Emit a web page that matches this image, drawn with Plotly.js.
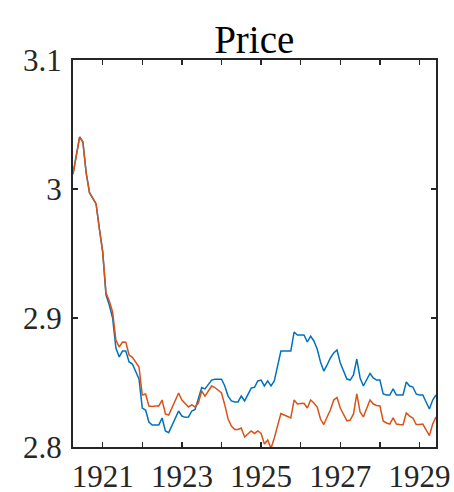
<!DOCTYPE html>
<html>
<head>
<meta charset="utf-8">
<script src="https://cdn.plot.ly/plotly-3.0.1.min.js"></script>
<style>
html,body{margin:0;padding:0;background:#fff;}
#chart{width:454px;height:492px;}
</style>
</head>
<body>
<div id="chart"></div>
<script>
// Monthly series, April 1920 to June 1929
const startYear = 1920;
const startMonth = 4;

const seriesBlue = [3.0116,3.0264,3.0403,3.0364,3.0124,2.9971,2.9922,2.9884,2.969,2.9512,
 2.9178,2.9101,2.9,2.8767,2.8698,2.8744,2.8744,2.8659,2.8643,2.8581,
 2.8527,2.8302,2.8287,2.8194,2.8171,2.8171,2.8171,2.8225,2.8124,2.8111,
 2.8163,2.8217,2.8279,2.824,2.823,2.8233,2.8279,2.8291,2.838,2.8461,
 2.845,2.8488,2.8519,2.8525,2.8525,2.8525,2.8473,2.8395,2.8357,2.8349,
 2.8349,2.8395,2.8357,2.8411,2.8457,2.8463,2.8512,2.8519,2.8473,2.8512,
 2.8473,2.8512,2.862,2.8744,2.8744,2.8744,2.8744,2.8891,2.8868,2.8868,
 2.8868,2.8814,2.886,2.8822,2.876,2.8659,2.8589,2.8636,2.869,2.8729,
 2.8752,2.8651,2.8581,2.8527,2.8519,2.8558,2.8682,2.8535,2.8473,2.8519,
 2.857,2.8535,2.8519,2.8519,2.8411,2.8403,2.8403,2.845,2.8403,2.8403,
 2.8403,2.8504,2.8473,2.8465,2.8411,2.8403,2.8403,2.8349,2.8295,2.8364,
 2.8403];

const seriesOrange = [3.0116,3.0264,3.0403,3.0364,3.0124,2.9971,2.9922,2.9884,2.969,2.9512,
 2.9194,2.9132,2.9047,2.8829,2.8775,2.8814,2.8812,2.8713,2.8695,2.8659,
 2.862,2.8403,2.8411,2.8318,2.8314,2.8318,2.8318,2.8364,2.8256,2.8248,
 2.8302,2.8357,2.8419,2.8364,2.8333,2.831,2.8326,2.831,2.8341,2.8434,
 2.8395,2.8434,2.8473,2.8461,2.8442,2.8419,2.8326,2.8217,2.8163,2.8136,
 2.8136,2.8147,2.8078,2.8101,2.8124,2.8105,2.8124,2.8105,2.8023,2.8054,
 2.799,2.807,2.8163,2.826,2.8248,2.8236,2.8225,2.8364,2.8333,2.8337,
 2.8339,2.8302,2.8364,2.8341,2.831,2.8217,2.8174,2.8233,2.8287,2.8364,
 2.8384,2.8302,2.8248,2.8202,2.8209,2.8256,2.8411,2.8271,2.8233,2.8302,
 2.8364,2.8333,2.8322,2.8318,2.8202,2.8186,2.8178,2.8225,2.8178,2.8174,
 2.8171,2.8264,2.824,2.8225,2.8174,2.8174,2.8178,2.8132,2.8089,2.8178,
 2.8233];

const xTickVals = [1921,1922,1923,1924,1925,1926,1927,1928,1929];
const xTickText = ['1921','','1923','','1925','','1927','','1929'];
const yTickVals = [2.8,2.9,3.0,3.1];
const yTickText = ['2.8','2.9','3','3.1'];

const dates = seriesBlue.map((_, i) => startYear + (startMonth - 1 + i) / 12);

const traces = [
  {x: dates, y: seriesBlue, type: 'scatter', mode: 'lines',
   line: {color: '#0072BD', width: 1.5}, hoverinfo: 'skip'},
  {x: dates, y: seriesOrange, type: 'scatter', mode: 'lines',
   line: {color: '#D95319', width: 1.5}, hoverinfo: 'skip'}
];

const axisCommon = {
  showgrid: false, zeroline: false,
  showline: true, linecolor: '#262626', linewidth: 2,
  mirror: 'ticks', ticks: 'inside', ticklen: 5, tickwidth: 1.5, tickcolor: '#262626',
  tickfont: {family: 'Liberation Serif, Times New Roman, serif', size: 31, color: '#262626'}
};

const layout = {
  width: 454, height: 492,
  margin: {l: 73, r: 18, t: 60, b: 45, pad: 0},
  paper_bgcolor: '#ffffff', plot_bgcolor: '#ffffff',
  showlegend: false,
  title: {text: 'Price', font: {family: 'Liberation Serif, Times New Roman, serif', size: 39, color: '#000000'},
          x: 0.56, xanchor: 'center', yref: 'container', y: 0.92, yanchor: 'middle'},
  xaxis: Object.assign({}, axisCommon, {
    range: [startYear + (startMonth - 1) / 12, dates[dates.length - 1]],
    tickmode: 'array', tickvals: xTickVals, ticktext: xTickText, ticklabelstandoff: 1
  }),
  yaxis: Object.assign({}, axisCommon, {
    range: [2.8, 3.1],
    tickmode: 'array', tickvals: yTickVals, ticktext: yTickText, ticklabelstandoff: 3
  })
};

Plotly.newPlot('chart', traces, layout, {displayModeBar: false, staticPlot: true});
</script>
</body>
</html>
